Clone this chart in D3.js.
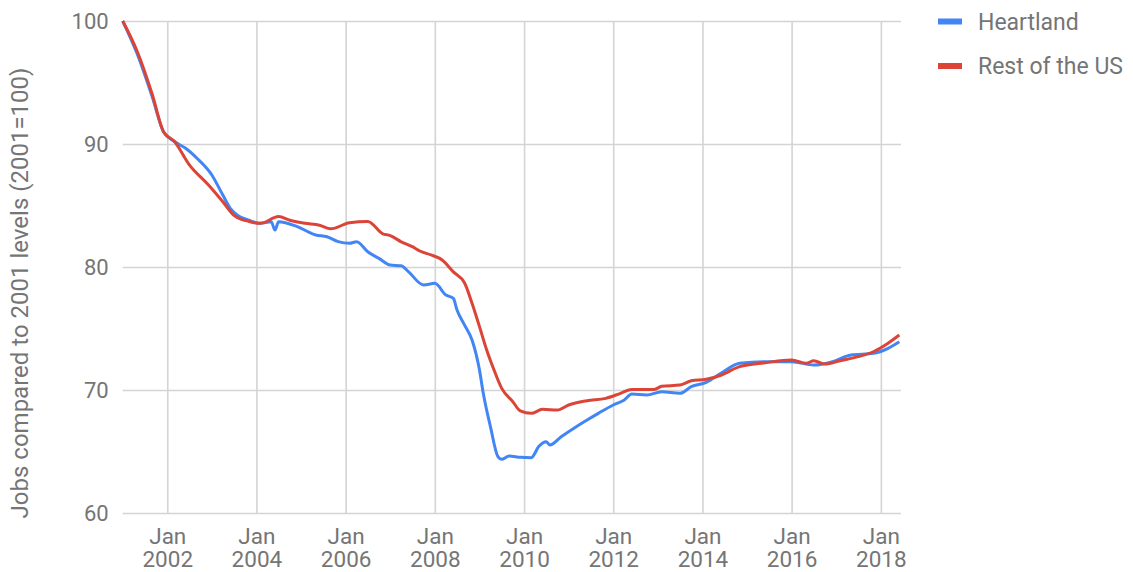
<!DOCTYPE html>
<meta charset="utf-8">
<style>
    body { margin: 0; background: #fff; }
    svg text { font-family: Roboto, "Noto Sans", sans-serif; fill: #757575; }
</style>
<svg id="chart" width="1133" height="572"></svg>
<script src="https://cdn.jsdelivr.net/npm/d3@7"></script>
<script type="text/javascript">
    // Heartland series (monthly samples)
    var heartlandDates = ["2001-01", "2001-05", "2001-09", "2001-12", "2002-03", "2002-06", "2002-09",
        "2003-01", "2003-04", "2003-06", "2003-08", "2003-11", "2004-02", "2004-05", "2004-06", "2004-07",
        "2004-12", "2005-05", "2005-08", "2005-11", "2006-02", "2006-04", "2006-07", "2006-10", "2007-01",
        "2007-04", "2007-06", "2007-10", "2008-01", "2008-04", "2008-06", "2008-07", "2008-09", "2008-11",
        "2009-01", "2009-02", "2009-04", "2009-06", "2009-07", "2009-09", "2009-12", "2010-03", "2010-05",
        "2010-07", "2010-08", "2010-11", "2011-03", "2011-06", "2011-09", "2012-01", "2012-04", "2012-06",
        "2012-10", "2013-02", "2013-07", "2013-10", "2014-02", "2014-06", "2014-11", "2015-06", "2016-01",
        "2016-07", "2016-12", "2017-05", "2017-11", "2018-03", "2018-06"];
    var heartlandValues = [100, 97.3, 93.8, 91.0, 90.2, 89.65, 88.84,
        87.48, 85.85, 84.77, 84.2, 83.8, 83.55, 83.68, 83.0, 83.68,
        83.28, 82.6, 82.46, 82.06, 81.93, 82.06, 81.24, 80.7, 80.16,
        80.1, 79.6, 78.54, 78.67, 77.72, 77.45, 76.5, 75.28, 74.07,
        71.63, 69.73, 67.0, 64.58, 64.36, 64.63, 64.53, 64.5, 65.4,
        65.8, 65.53, 66.2, 67.0, 67.56, 68.1, 68.78, 69.19, 69.67,
        69.6, 69.86, 69.73, 70.27, 70.62, 71.35, 72.17, 72.3, 72.3,
        72.03, 72.3, 72.85, 72.98, 73.39, 73.93];

    // Rest of the US series
    var restDates = ["2001-01", "2001-05", "2001-09", "2001-12", "2002-03", "2002-07", "2002-12",
        "2003-04", "2003-07", "2003-11", "2004-02", "2004-07", "2004-10", "2005-02", "2005-06", "2005-09",
        "2006-02", "2006-07", "2006-11", "2007-01", "2007-04", "2007-07", "2007-09", "2007-12", "2008-03",
        "2008-06", "2008-09", "2008-11", "2009-01", "2009-03", "2009-05", "2009-07", "2009-10", "2009-12",
        "2010-03", "2010-06", "2010-10", "2011-01", "2011-06", "2011-11", "2012-03", "2012-06", "2012-12",
        "2013-02", "2013-07", "2013-10", "2014-02", "2014-06", "2014-11", "2015-06", "2016-01", "2016-05",
        "2016-07", "2016-10", "2017-02", "2017-07", "2017-11", "2018-03", "2018-06"];
    var restValues = [100, 97.5, 94.0, 91.0, 90.2, 88.3, 86.7,
        85.3, 84.2, 83.7, 83.55, 84.1, 83.8, 83.55, 83.4, 83.1,
        83.6, 83.7, 82.7, 82.55, 82.05, 81.65, 81.3, 80.98, 80.57,
        79.6, 78.7, 77.05, 75.15, 73.25, 71.6, 70.15, 69.05, 68.3,
        68.1, 68.43, 68.37, 68.78, 69.13, 69.32, 69.73, 70.05, 70.05,
        70.3, 70.4, 70.75, 70.87, 71.2, 71.9, 72.22, 72.44, 72.17,
        72.38, 72.11, 72.38, 72.71, 73.11, 73.8, 74.47];

    var seriesNames = ["Heartland", "Rest of the US"];
    var seriesColors = ["#4285f4", "#db4437"];
    var yTicks = [60, 70, 80, 90, 100];
    var xTickYears = [2002, 2004, 2006, 2008, 2010, 2012, 2014, 2016, 2018];
    var yTitle = "Jobs compared to 2001 levels (2001=100)";

    var parseMonth = d3.timeParse("%Y-%m");
    function toPoints(dates, values) {
        return dates.map((d, i) => ({ date: parseMonth(d), value: values[i] }));
    }
    var series = [
        toPoints(heartlandDates, heartlandValues),
        toPoints(restDates, restValues)
    ];

    var svg = d3.select("#chart");
    var plotLeft = 122.7, plotRight = 901, plotTop = 21, plotBottom = 513;

    var x = d3.scaleTime()
        .domain([new Date(2001, 0, 1), new Date(2018, 5, 15)])
        .range([plotLeft, plotRight]);
    var y = d3.scaleLinear()
        .domain([60, 100])
        .range([plotBottom, plotTop]);

    // horizontal gridlines + y labels
    var yAxis = svg.append("g")
        .attr("transform", "translate(" + plotLeft + ",0)")
        .call(d3.axisLeft(y).tickValues(yTicks).tickSize(-(plotRight - plotLeft)).tickPadding(14));
    yAxis.select(".domain").remove();
    yAxis.selectAll("line").attr("stroke", "#d4d4d4").attr("stroke-width", 1.6);
    yAxis.selectAll("text").attr("font-size", 22).attr("fill", null);

    // vertical gridlines + two-line x labels
    var xAxis = svg.append("g")
        .attr("transform", "translate(0," + plotBottom + ")")
        .call(d3.axisBottom(x)
            .tickValues(xTickYears.map(yr => new Date(yr, 0, 1)))
            .tickSize(-(plotBottom - plotTop))
            .tickFormat(""));
    xAxis.select(".domain").remove();
    xAxis.selectAll("line").attr("stroke", "#d4d4d4").attr("stroke-width", 1.6);
    xAxis.selectAll(".tick").each(function (d) {
        var t = d3.select(this).append("text")
            .attr("font-size", 22.5)
            .attr("text-anchor", "middle");
        t.append("tspan").attr("x", 0).attr("y", 31).text("Jan");
        t.append("tspan").attr("x", 0).attr("y", 54).text(d.getFullYear());
    });

    // y axis title
    svg.append("text")
        .attr("transform", "translate(28," + ((plotTop + plotBottom) / 2 + 26) + ") rotate(-90)")
        .attr("text-anchor", "middle")
        .attr("font-size", 24)
        .text(yTitle);

    // series lines
    var line = d3.line()
        .x(d => x(d.date))
        .y(d => y(d.value))
        .curve(d3.curveMonotoneX);

    svg.append("g").selectAll("path")
        .data(series)
        .join("path")
        .attr("fill", "none")
        .attr("stroke", (d, i) => seriesColors[i])
        .attr("stroke-width", 3)
        .attr("stroke-linejoin", "round")
        .attr("d", line);

    // legend
    var legend = svg.append("g").selectAll("g")
        .data(seriesNames)
        .join("g")
        .attr("transform", (d, i) => "translate(938," + (21.5 + i * 44.5) + ")");
    legend.append("rect")
        .attr("x", 0).attr("y", -3)
        .attr("width", 24).attr("height", 6)
        .attr("fill", (d, i) => seriesColors[i]);
    legend.append("text")
        .attr("x", 40).attr("dy", "0.35em")
        .attr("font-size", 23)
        .text(d => d);
</script>
